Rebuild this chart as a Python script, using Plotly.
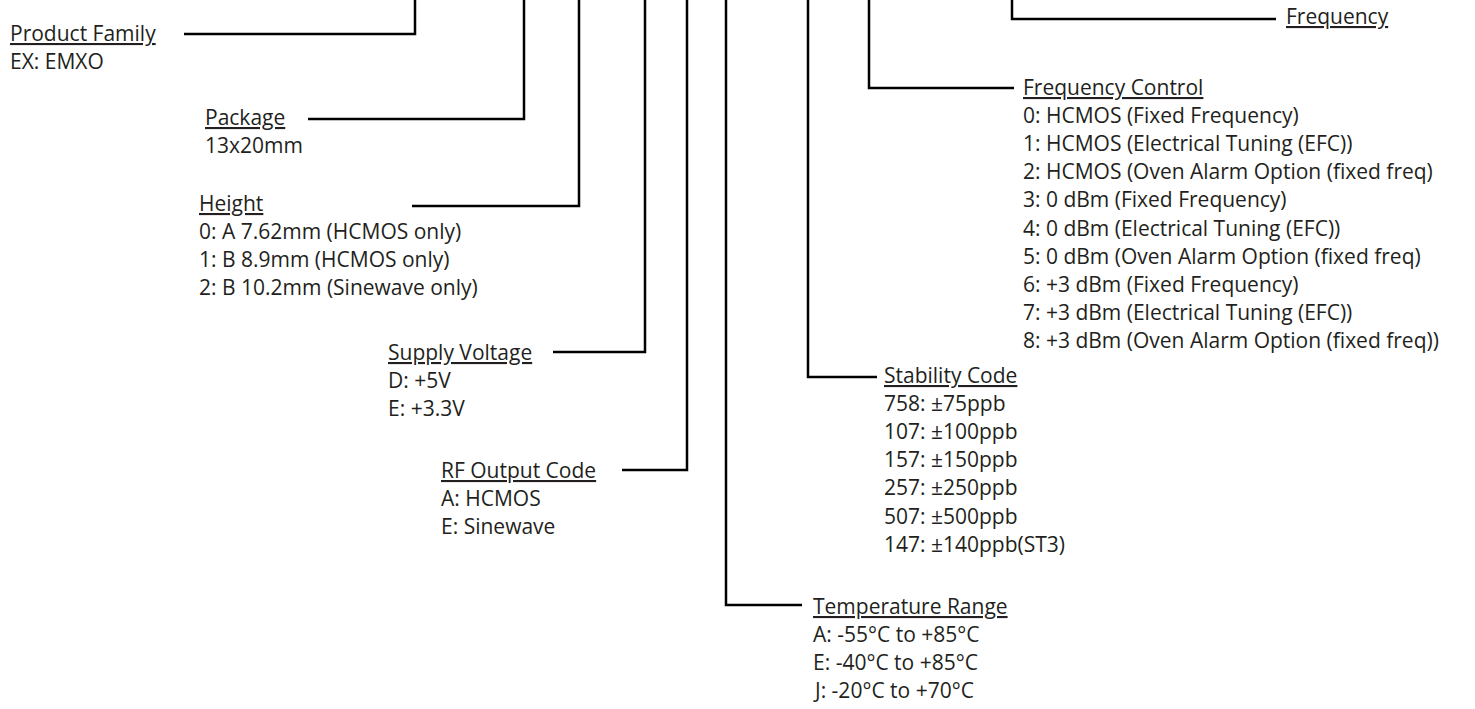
import plotly.graph_objects as go

# ---------------- data (text content) ----------------
categories = ["Product Family", "Package", "Height", "Supply Voltage", "RF Output Code",
              "Temperature Range", "Stability Code", "Frequency Control", "Frequency"]
product_family_opts = ["EX: EMXO"]
package_opts = ["13x20mm"]
height_opts = ["0: A 7.62mm (HCMOS only)", "1: B 8.9mm (HCMOS only)", "2: B 10.2mm (Sinewave only)"]
supply_opts = ["D: +5V", "E: +3.3V"]
rf_opts = ["A: HCMOS", "E: Sinewave"]
temperature_opts = ["A: -55°C to +85°C", "E: -40°C to +85°C", "J: -20°C to +70°C"]
stability_opts = ["758: ±75ppb", "107: ±100ppb", "157: ±150ppb", "257: ±250ppb",
                  "507: ±500ppb", "147: ±140ppb(ST3)"]
freq_control_opts = ["0: HCMOS (Fixed Frequency)",
                     "1: HCMOS (Electrical Tuning (EFC))",
                     "2: HCMOS (Oven Alarm Option (fixed freq)",
                     "3: 0 dBm (Fixed Frequency)",
                     "4: 0 dBm (Electrical Tuning (EFC))",
                     "5: 0 dBm (Oven Alarm Option (fixed freq)",
                     "6: +3 dBm (Fixed Frequency)",
                     "7: +3 dBm (Electrical Tuning (EFC))",
                     "8: +3 dBm (Oven Alarm Option (fixed freq))"]
frequency_opts = []

options = [product_family_opts, package_opts, height_opts, supply_opts, rf_opts,
           temperature_opts, stability_opts, freq_control_opts, frequency_opts]

# ---------------- layout (positions in pixels) ----------------
# text_x, title_y, vertical_x, horizontal_other_end_x, line_y
placement = {
    "Product Family":    (8, 33, 415, 184, 34),
    "Package":           (203, 117, 524, 308, 119),
    "Height":            (197, 203, 579, 412, 206),
    "Supply Voltage":    (386, 352, 645, 553, 352),
    "RF Output Code":    (439, 470, 687, 622, 470),
    "Temperature Range": (811, 606, 726, 802, 605),
    "Stability Code":    (882, 375, 808, 877, 377),
    "Frequency Control": (1021, 87, 869, 1014, 88),
    "Frequency":         (1284, 16, 1012, 1276, 19),
}
ROW = 28.1
W, H = 1475, 709
FONT = "Open Sans"
FS = 21
COLOR = "#231f20"

fig = go.Figure()
annotations = []
for cat, opts in zip(categories, options):
    tx, ty, vx, hx, ly = placement[cat]
    fig.add_trace(go.Scatter(x=[hx, vx, vx], y=[ly, ly, 0], mode="lines",
                             line=dict(color="black", width=2.5),
                             hoverinfo="skip", showlegend=False))
    annotations.append(dict(x=tx, y=ty, text="<u>%s</u>" % cat, xref="x", yref="y",
                            xanchor="left", yanchor="middle", showarrow=False,
                            font=dict(family=FONT, size=FS, color=COLOR)))
    for i, o in enumerate(opts):
        annotations.append(dict(x=tx, y=ty + ROW * (i + 1), text=o, xref="x", yref="y",
                                xanchor="left", yanchor="middle", showarrow=False,
                                font=dict(family=FONT, size=FS, color=COLOR)))

fig.update_layout(
    width=W, height=H,
    margin=dict(l=0, r=0, t=0, b=0),
    paper_bgcolor="white", plot_bgcolor="white",
    xaxis=dict(range=[0, W], visible=False, fixedrange=True),
    yaxis=dict(range=[H, 0], visible=False, fixedrange=True),
    annotations=annotations,
    showlegend=False,
)
fig.write_html("out.html", config={"displayModeBar": False},
               post_script="document.body.style.margin='0';document.body.style.overflow='hidden';")
